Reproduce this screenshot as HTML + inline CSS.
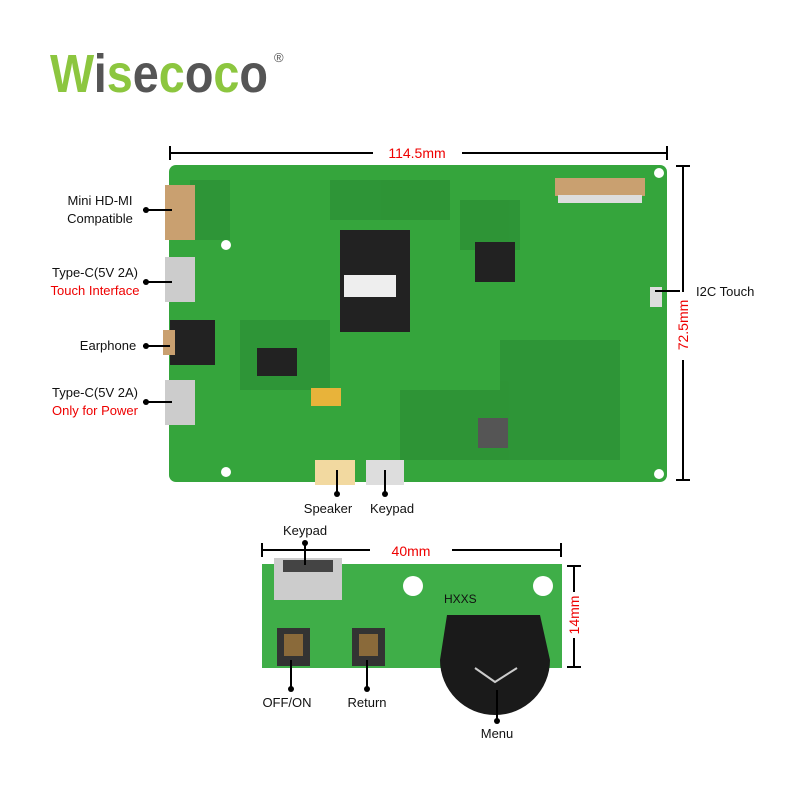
<!DOCTYPE html>
<html><head><meta charset="utf-8"><style>
body{margin:0;background:#fff;width:800px;height:800px;overflow:hidden}
svg text{font-family:"Liberation Sans",sans-serif}
</style></head><body>
<svg width="800" height="800" viewBox="0 0 800 800" xmlns="http://www.w3.org/2000/svg">
<rect width="800" height="800" fill="#fff"/>
<!-- logo -->
<text x="50" y="92" font-size="54" font-weight="bold" textLength="218" lengthAdjust="spacingAndGlyphs"><tspan fill="#8cc63f">W</tspan><tspan fill="#555">i</tspan><tspan fill="#8cc63f">s</tspan><tspan fill="#555">e</tspan><tspan fill="#8cc63f">c</tspan><tspan fill="#555">o</tspan><tspan fill="#8cc63f">c</tspan><tspan fill="#555">o</tspan></text>
<text x="274" y="62" font-size="13" fill="#555">®</text>

<!-- top dimension -->
<line x1="170" y1="153" x2="373" y2="153" stroke="#000" stroke-width="2"/>
<line x1="462" y1="153" x2="667" y2="153" stroke="#000" stroke-width="2"/>
<line x1="170" y1="146" x2="170" y2="160" stroke="#000" stroke-width="2"/>
<line x1="667" y1="146" x2="667" y2="160" stroke="#000" stroke-width="2"/>
<text x="417" y="158" font-size="14" fill="#e00" text-anchor="middle">114.5mm</text>

<!-- main board -->
<rect x="169" y="165" width="498" height="317" rx="7" fill="#35a53c"/>
<g fill="#2a8a33" opacity="0.6">
<rect x="190" y="180" width="40" height="60"/><rect x="330" y="180" width="120" height="40"/>
<rect x="460" y="200" width="60" height="50"/><rect x="500" y="340" width="120" height="120"/>
<rect x="240" y="320" width="90" height="70"/><rect x="400" y="390" width="100" height="70"/>
</g>
<rect x="340" y="230" width="70" height="102" fill="#222"/>
<rect x="344" y="275" width="52" height="22" fill="#eee"/>
<rect x="475" y="242" width="40" height="40" fill="#222"/>
<rect x="555" y="178" width="90" height="18" fill="#c9a070"/>
<rect x="558" y="195" width="84" height="8" fill="#ddd"/>
<rect x="311" y="388" width="30" height="18" fill="#e8b33a"/>
<rect x="478" y="418" width="30" height="30" fill="#555"/>
<rect x="257" y="348" width="40" height="28" fill="#222"/>
<rect x="315" y="460" width="40" height="25" fill="#f2d9a0"/>
<rect x="366" y="460" width="38" height="25" fill="#ddd"/>
<rect x="165" y="185" width="30" height="55" fill="#c9a070"/>
<rect x="165" y="257" width="30" height="45" fill="#ccc"/>
<rect x="170" y="320" width="45" height="45" fill="#222"/>
<rect x="163" y="330" width="12" height="25" fill="#c9a070"/>
<rect x="165" y="380" width="30" height="45" fill="#ccc"/>
<circle cx="659" cy="173" r="5" fill="#fff"/><circle cx="659" cy="474" r="5" fill="#fff"/>
<circle cx="226" cy="245" r="5" fill="#fff"/><circle cx="226" cy="472" r="5" fill="#fff"/>
<rect x="650" y="287" width="12" height="20" fill="#ddd"/>

<!-- right dimension -->
<line x1="683" y1="166" x2="683" y2="480" stroke="#000" stroke-width="2"/>
<line x1="676" y1="166" x2="690" y2="166" stroke="#000" stroke-width="2"/>
<line x1="676" y1="480" x2="690" y2="480" stroke="#000" stroke-width="2"/>
<rect x="674" y="292" width="18" height="68" fill="#fff"/>
<text x="0" y="0" font-size="14" fill="#e00" text-anchor="middle" transform="translate(688,325) rotate(-90)">72.5mm</text>
<line x1="655" y1="291" x2="680" y2="291" stroke="#000" stroke-width="2"/>
<text x="696" y="296" font-size="13" fill="#111">I2C Touch</text>

<!-- left labels -->
<g font-size="13" fill="#111" text-anchor="middle">
<text x="100" y="205">Mini HD-MI</text><text x="100" y="223">Compatible</text>
<text x="95" y="277">Type-C(5V 2A)</text><text x="95" y="295" fill="#e00">Touch Interface</text>
<text x="108" y="350">Earphone</text>
<text x="95" y="397">Type-C(5V 2A)</text><text x="95" y="415" fill="#e00">Only for Power</text>
<text x="328" y="513">Speaker</text><text x="392" y="513">Keypad</text>
<text x="305" y="535">Keypad</text>
<text x="287" y="707">OFF/ON</text><text x="367" y="707">Return</text>
<text x="497" y="738">Menu</text>
</g>
<g stroke="#000" stroke-width="2">
<line x1="143" y1="210" x2="172" y2="210"/><line x1="143" y1="282" x2="172" y2="282"/>
<line x1="143" y1="346" x2="170" y2="346"/><line x1="143" y1="402" x2="172" y2="402"/>
<line x1="337" y1="470" x2="337" y2="496"/><line x1="385" y1="470" x2="385" y2="496"/>
</g>
<g fill="#000"><circle cx="146" cy="210" r="3"/><circle cx="146" cy="282" r="3"/><circle cx="146" cy="346" r="3"/><circle cx="146" cy="402" r="3"/><circle cx="337" cy="494" r="3"/><circle cx="385" cy="494" r="3"/></g>

<!-- bottom dimension -->
<line x1="262" y1="550" x2="370" y2="550" stroke="#000" stroke-width="2"/>
<line x1="452" y1="550" x2="561" y2="550" stroke="#000" stroke-width="2"/>
<line x1="262" y1="543" x2="262" y2="557" stroke="#000" stroke-width="2"/>
<line x1="561" y1="543" x2="561" y2="557" stroke="#000" stroke-width="2"/>
<text x="411" y="556" font-size="14" fill="#e00" text-anchor="middle">40mm</text>

<!-- key board -->
<rect x="262" y="564" width="300" height="104" fill="#3fae48"/>
<rect x="274" y="558" width="68" height="42" fill="#ccc"/>
<rect x="283" y="560" width="50" height="12" fill="#444"/>
<circle cx="413" cy="586" r="10" fill="#fff"/><circle cx="543" cy="586" r="10" fill="#fff"/>
<rect x="277" y="628" width="33" height="38" fill="#333"/><rect x="284" y="634" width="19" height="22" fill="#8a6a3a"/>
<rect x="352" y="628" width="33" height="38" fill="#333"/><rect x="359" y="634" width="19" height="22" fill="#8a6a3a"/>
<path d="M447 615 L540 615 L550 660 A55 55 0 0 1 440 660 Z" fill="#1a1a1a"/>
<path d="M475 668 L495 682 L517 668" stroke="#ccc" stroke-width="2" fill="none"/>
<text x="444" y="603" font-size="12" fill="#111">HXXS</text>
<line x1="305" y1="543" x2="305" y2="565" stroke="#000" stroke-width="2"/><circle cx="305" cy="543" r="3"/>
<line x1="291" y1="660" x2="291" y2="690" stroke="#000" stroke-width="2"/><circle cx="291" cy="689" r="3"/>
<line x1="367" y1="660" x2="367" y2="690" stroke="#000" stroke-width="2"/><circle cx="367" cy="689" r="3"/>
<line x1="497" y1="690" x2="497" y2="720" stroke="#000" stroke-width="2"/><circle cx="497" cy="721" r="3"/>

<!-- 14mm -->
<line x1="574" y1="566" x2="574" y2="667" stroke="#000" stroke-width="2"/>
<line x1="567" y1="566" x2="581" y2="566" stroke="#000" stroke-width="2"/>
<line x1="567" y1="667" x2="581" y2="667" stroke="#000" stroke-width="2"/>
<rect x="566" y="592" width="16" height="46" fill="#fff"/>
<text font-size="14" fill="#e00" text-anchor="middle" transform="translate(579,615) rotate(-90)">14mm</text>
</svg>
</body></html>
